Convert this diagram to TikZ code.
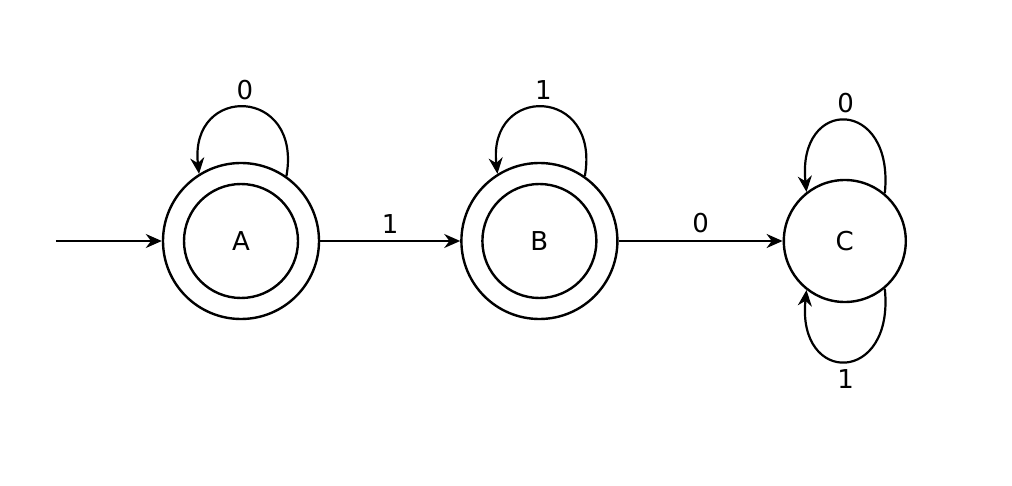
\documentclass[tikz,border=0pt]{standalone}
\usepackage{fontspec}
\setmainfont{DejaVu Sans}
\usetikzlibrary{positioning,arrows.meta}

\tikzset{
  state/.style={circle, draw, line width=1.2pt, minimum size=61pt, inner sep=0pt},
  accept/.style={circle, draw, line width=1.2pt, minimum size=78pt, inner sep=0pt},
  inner/.style={circle, draw, line width=1.2pt, minimum size=57pt, inner sep=0pt},
  trans/.style={-{Stealth[length=8pt,width=7pt]}, line width=1.1pt},
  lbl/.style={font=\fontsize{13}{15}\selectfont}
}

\begin{document}
\begin{tikzpicture}
    \useasboundingbox (0,0) rectangle (506pt,-243pt);
    \node[accept] (A) at (120.5pt,-120.5pt) {};
    \node[inner, lbl] (a) at (A) {A};
    \node[accept, right=70pt of A] (B) {};
    \node[inner, lbl] (b) at (B) {B};
    \node[state, lbl, right=82pt of B] (C) {C};
    \coordinate[left=53pt of A] (start);

    % Connect the nodes
    \draw[trans] (start) -- (A);
    \draw[trans] (A) -- node[lbl, above] {1} (B);
    \draw[trans] (B) -- node[lbl, above] {0} (C);
    \draw[trans] (A.55) .. controls +(8pt,45pt) and +(-5pt,45pt) .. node[lbl, above] {0} (A.122);
    \draw[trans] (B.55) .. controls +(8pt,45pt) and +(-5pt,45pt) .. node[lbl, above] {1} (B.122);
    \draw[trans] (C.50) .. controls +(5pt,48pt) and +(-5pt,48pt) .. node[lbl, above] {0} (C.128);
    \draw[trans] (C.-50) .. controls +(5pt,-48pt) and +(-5pt,-48pt) .. node[lbl, below] {1} (C.-128);
\end{tikzpicture}
\end{document}
